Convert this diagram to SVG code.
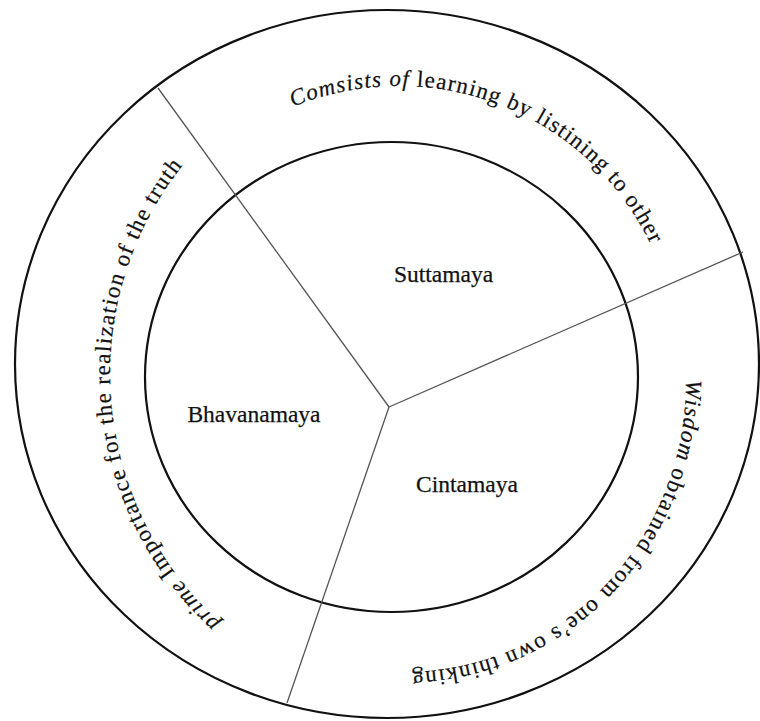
<svg xmlns="http://www.w3.org/2000/svg" width="760" height="721" viewBox="0 0 760 721">
<style>
.ring{fill:none;stroke:#111;stroke-width:2.2}
.div{stroke:#555;stroke-width:1.3;fill:none}
.lbl{font-family:"Liberation Serif","Times New Roman",serif;font-size:23.5px;fill:#111;stroke:#111;stroke-width:0.25;text-anchor:middle}
.arc{font-family:"Liberation Serif","Times New Roman",serif;font-size:23px;fill:#111;stroke:#111;stroke-width:0.2}
.it{font-style:italic}
</style>
<defs>
<path id="p-top" d="M 293 106.9 A 279 279 0 0 1 673.8 316.6"/>
<path id="p-right" d="M 686 380 A 282 290 0 0 1 355 667.6"/>
<path id="p-left" d="M 219.9 622.5 A 336 336 0 0 1 230 116.6"/>
</defs>
<rect width="760" height="721" fill="#fff"/>
<g id="outer-ring"><ellipse class="ring" cx="387" cy="364" rx="372" ry="354"/></g>
<g id="inner-ring"><ellipse class="ring" cx="391.5" cy="377" rx="246.5" ry="235"/></g>
<g id="connectors">
<line class="div" x1="389" y1="407" x2="158" y2="88"/>
<line class="div" x1="389" y1="407" x2="743" y2="252"/>
<line class="div" x1="389" y1="407" x2="287" y2="703"/>
</g>
<g id="suttamaya"><text class="lbl" x="443.5" y="282">Suttamaya</text></g>
<g id="bhavanamaya"><text class="lbl" x="254" y="422">Bhavanamaya</text></g>
<g id="cintamaya"><text class="lbl" x="467" y="492">Cintamaya</text></g>
<g id="suttamaya-desc"><text class="arc" letter-spacing="1.15"><textPath href="#p-top"><tspan class="it">Comsists of </tspan>learning by listining to other</textPath></text></g>
<g id="cintamaya-desc">
<text class="arc" letter-spacing="1.35"><textPath href="#p-right"><tspan class="it">Wisdom </tspan>obtained from </textPath></text>
<text class="arc" letter-spacing="1.35"><textPath href="#p-right" startOffset="243.6">one’s own thinking</textPath></text>
</g>
<g id="bhavanamaya-desc"><text class="arc" letter-spacing="1.3"><textPath href="#p-left"><tspan class="it">prime </tspan>Importance for the realization of the truth</textPath></text></g>
</svg>
